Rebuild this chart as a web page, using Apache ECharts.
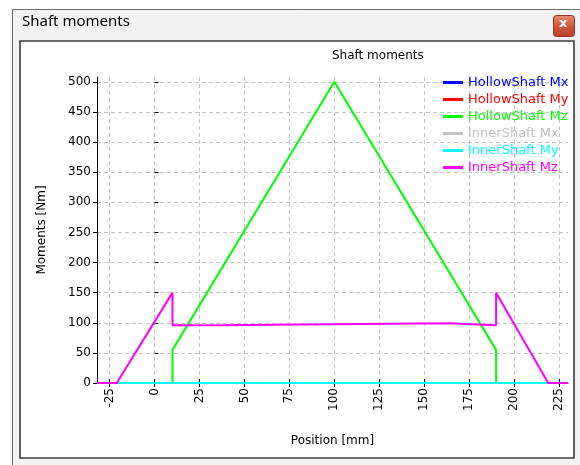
<!DOCTYPE html>
<html>
<head>
<meta charset="utf-8">
<script src="https://cdn.jsdelivr.net/npm/echarts@6/dist/echarts.min.js"></script>
<style>
html,body{margin:0;padding:0;background:#fff;}
#c{width:580px;height:465px;}
</style>
</head>
<body>
<div id="c"></div>
<script>
// ---- data ----
const seriesNames = ['HollowShaft Mx','HollowShaft My','HollowShaft Mz','InnerShaft Mx','InnerShaft My','InnerShaft Mz'];
const seriesColors = ['#0000ff','#ff0000','#00ff00','#c0c0c0','#00ffff','#ff00ff'];
const hollowPos = [10, 190];
const hollowMx = [0, 0];
const hollowMy = [0, 0];
const hollowMzPos = [10, 10, 100, 190, 190];
const hollowMz = [0, 55, 500, 55, 0];
const innerPos = [-32, 230];
const innerMx = [0, 0];
const innerMy = [0, 0];
const innerMzPos = [-32, -21, 10, 10, 35, 35, 163, 163, 190, 190, 219, 230];
const innerMz = [0, 0, 150, 96, 96, 99, 99, 96, 96, 150, 0, 0];
const xTicks = [-25, 0, 25, 50, 75, 100, 125, 150, 175, 200, 225];
const yTicks = [0, 50, 100, 150, 200, 250, 300, 350, 400, 450, 500];

const pairs = (xs, ys) => xs.map((x, i) => [x, ys[i]]);
const seriesData = [
  pairs(hollowPos, hollowMx),
  pairs(hollowPos, hollowMy),
  pairs(hollowMzPos, hollowMz),
  pairs(innerPos, innerMx),
  pairs(innerPos, innerMy),
  pairs(innerMzPos, innerMz)
];

const FONT = 'DejaVu Sans';
const chart = echarts.init(document.getElementById('c'), null, {renderer: 'canvas'});

const gridSplit = {show: true, lineStyle: {color: '#c4c4c4', type: [4, 3], width: 1}};
const xMin = -32, xMax = 230, yMin = 0, yMax = 508;

const option = {
  animation: false,
  backgroundColor: '#ffffff',
  graphic: [
    {type: 'rect', z: -10, shape: {x: 12.5, y: 9.5, width: 580, height: 470},
      style: {fill: '#f2f2f2', stroke: '#6e6e6e', lineWidth: 1}},
    {type: 'rect', z: -9, shape: {x: 20, y: 41, width: 554, height: 417},
      style: {fill: '#ffffff', stroke: '#3c3c3c', lineWidth: 1.6}},
    {type: 'text', z: -8, left: 22, top: 14,
      style: {text: 'Shaft moments', font: '15px "Noto Sans"', fill: '#000'}},
    {type: 'rect', z: -8, shape: {x: 553.5, y: 15.5, width: 21, height: 21, r: 3},
      style: {fill: new echarts.graphic.LinearGradient(0, 0, 0, 1, [{offset: 0, color: '#e8907a'}, {offset: 0.5, color: '#d0553c'}, {offset: 1, color: '#c0402a'}]), stroke: '#8a3a2a', lineWidth: 1}},
    {type: 'text', z: -7, left: 559, top: 17,
      style: {text: 'x', font: 'bold 13px "DejaVu Sans"', fill: '#ffffff'}},
    {type: 'text', left: 332, top: 50,
      style: {text: 'Shaft moments', font: '12px "DejaVu Sans"', fill: '#000', align: 'center'}}
  ],
  legend: {
    orient: 'vertical',
    left: 438,
    top: 71,
    itemWidth: 20,
    itemHeight: 3,
    itemGap: 4,
    icon: 'rect',
    textStyle: {fontFamily: FONT, fontSize: 13},
    data: seriesNames.map((n, i) => ({name: n, textStyle: {color: seriesColors[i]}}))
  },
  grid: {left: 97, right: 12, top: 77, bottom: 82, containLabel: false},
  xAxis: [
    {
      type: 'value', min: xMin, max: xMax,
      name: 'Position [mm]', nameLocation: 'middle', nameGap: 52,
      nameTextStyle: {fontFamily: FONT, fontSize: 12, color: '#000'},
      axisLine: {show: true, onZero: false, lineStyle: {color: '#000', width: 1}},
      axisTick: {show: true, inside: false, length: 4, lineStyle: {color: '#000'}, customValues: xTicks},
      axisLabel: {rotate: 90, fontFamily: FONT, fontSize: 12, color: '#000', margin: 5, customValues: xTicks},
      splitLine: gridSplit
    },
    {
      type: 'value', min: xMin, max: xMax, position: 'bottom', offset: 0,
      axisLine: {show: false},
      axisTick: {show: true, inside: true, length: 4, lineStyle: {color: '#000'}, customValues: xTicks},
      axisLabel: {show: false},
      splitLine: {show: false}
    }
  ],
  yAxis: [
    {
      type: 'value', min: yMin, max: yMax,
      name: 'Moments [Nm]', nameLocation: 'middle', nameGap: 49,
      nameTextStyle: {fontFamily: FONT, fontSize: 12, color: '#000'},
      axisLine: {show: true, onZero: false, lineStyle: {color: '#000', width: 1}},
      axisTick: {show: true, inside: false, length: 4, lineStyle: {color: '#000'}, customValues: yTicks},
      axisLabel: {fontFamily: FONT, fontSize: 12, color: '#000', margin: 6, customValues: yTicks},
      splitLine: gridSplit
    },
    {
      type: 'value', min: yMin, max: yMax, position: 'left', offset: 0,
      axisLine: {show: false},
      axisTick: {show: true, inside: true, length: 4, lineStyle: {color: '#000'}, customValues: yTicks},
      axisLabel: {show: false},
      splitLine: {show: false}
    }
  ],
  series: seriesNames.map((n, i) => ({
    name: n,
    type: 'line',
    xAxisIndex: 0,
    yAxisIndex: 0,
    data: seriesData[i],
    showSymbol: false,
    symbol: 'none',
    clip: true,
    color: seriesColors[i],
    lineStyle: {color: seriesColors[i], width: 2},
    emphasis: {disabled: true}
  }))
};
chart.setOption(option);
</script>
</body>
</html>
